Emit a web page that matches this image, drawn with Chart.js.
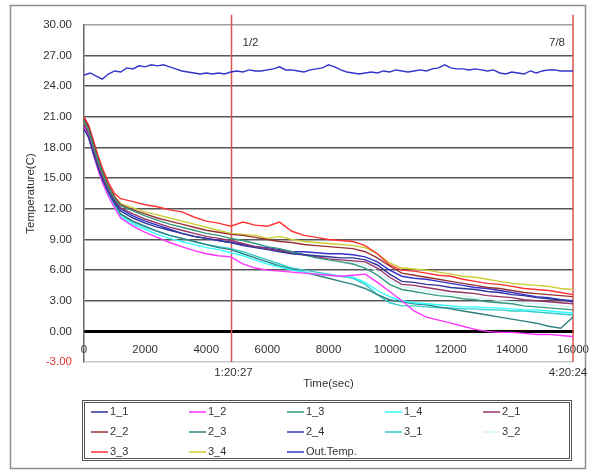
<!DOCTYPE html>
<html><head><meta charset="utf-8">
<script src="https://cdn.jsdelivr.net/npm/chart.js@4/dist/chart.umd.min.js"></script>
<style>html,body{margin:0;padding:0;background:#fff;}canvas{display:block;}</style>
</head><body>
<canvas id="c" width="591" height="471"></canvas>
<script>
// ---- data ----
const times = [0,150,300,450,600,800,1000,1200,1600,2000,2400,2800,3200,3600,4000,4400,4800,5200,5600,6000,6400,6800,7200,7600,8000,8400,8800,9200,9600,10000,10400,10800,11200,11600,12000,12400,12800,13200,13600,14000,14400,14800,15200,15600,16000];

const s1_1 = [19.8,19.0,17.5,16.1,14.9,13.6,12.6, 11.8,11.1,10.6,10.2,9.9,9.6,9.3,9.1,8.9,8.7, 8.4,8.2,8.0,7.8,7.6,7.5,7.4,7.3,7.2,7.2, 7.0,6.5,5.6,4.9,4.8,4.6,4.5,4.3,4.2,4.1, 3.9,3.8,3.6,3.5,3.3,3.2,3.1,2.9];
const s1_2 = [20.0,19.0,17.4,15.9,14.6,13.2,12.1, 11.1,10.3,9.7,9.2,8.7,8.3,7.9,7.6,7.4,7.3, 6.6,6.2,6.0,5.9,5.8,5.7,5.6,5.5,5.4,5.5, 5.6,4.8,3.9,3.0,2.0,1.4,1.1,0.8,0.5,0.2, 0.0,-0.1,-0.1,-0.2,-0.3,-0.3,-0.4,-0.5];
const s1_3 = [20.6,19.7,18.2,16.8,15.5,14.1,13.0, 12.3,11.8,11.3,10.9,10.5,10.2,9.9,9.6,9.4,9.1, 8.9,8.6,8.3,8.1,7.8,7.5,7.2,7.0,6.8,6.6, 6.2,5.5,4.6,4.1,3.9,3.7,3.5,3.4,3.2,3.1, 2.9,2.8,2.7,2.5,2.4,2.3,2.2,2.1];
const s1_4 = [19.9,19.0,17.4,16.0,14.7,13.3,12.2, 11.2,10.5,10.0,9.5,9.1,8.8,8.5,8.2,8.0,7.7, 7.4,7.0,6.6,6.3,6.0,5.8,5.6,5.5,5.4,5.3, 4.8,4.0,3.4,3.0,2.8,2.7,2.6,2.5,2.4,2.4, 2.3,2.3,2.2,2.1,2.1,2.0,1.9,1.8];
const s2_1 = [20.3,19.4,17.9,16.5,15.2,13.9,12.9, 12.1,11.5,11.0,10.6,10.2,9.9,9.6,9.3,9.1,8.9, 8.6,8.3,8.1,7.9,7.7,7.5,7.3,7.1,7.0,6.9, 6.8,6.2,5.3,4.6,4.5,4.3,4.1,3.9,3.8,3.7, 3.5,3.4,3.3,3.1,3.0,2.9,2.8,2.7];
const s2_2 = [20.8,20.0,18.5,17.0,15.7,14.3,13.2, 12.4,11.9,11.5,11.1,10.8,10.5,10.2,9.9,9.7,9.5, 9.4,9.2,9.0,8.8,8.7,8.5,8.4,8.3,8.2,8.1, 7.8,7.2,6.4,5.7,5.5,5.3,5.1,4.9,4.7,4.5, 4.3,4.2,4.0,3.8,3.7,3.6,3.5,3.4];
const s2_3 = [20.0,19.1,17.6,16.2,14.9,13.5,12.4, 11.5,10.8,10.3,9.8,9.4,9.1,8.8,8.5,8.2,8.0, 7.6,7.2,6.8,6.4,6.1,5.8,5.5,5.2,4.9,4.6, 4.2,3.6,3.1,2.9,2.7,2.6,2.4,2.2,2.0,1.8, 1.6,1.4,1.2,1.0,0.8,0.5,0.3,1.4];
const s2_4 = [20.2,19.3,17.8,16.4,15.1,13.8,12.8, 12.0,11.3,10.8,10.4,10.0,9.6,9.3,9.1,8.9,8.7, 8.5,8.3,8.2,8.0,7.8,7.8,7.7,7.6,7.6,7.5, 7.3,6.8,6.0,5.4,5.2,5.1,4.9,4.7,4.5,4.3, 4.2,4.0,3.8,3.6,3.4,3.3,3.1,3.0];
const s3_1 = [20.1,19.2,17.6,16.2,14.9,13.5,12.5, 11.4,10.7,10.2,9.8,9.4,9.1,8.8,8.5,8.3,8.1, 7.8,7.4,7.0,6.6,6.2,6.0,5.8,5.6,5.4,5.2, 4.6,3.6,2.8,2.5,2.5,2.4,2.3,2.3,2.2,2.2, 2.1,2.1,2.0,2.0,1.9,1.8,1.7,1.6];
const s3_2 = [20.3,19.4,17.9,16.5,15.2,13.8,12.8, 11.9,11.3,10.8,10.4,10.0,9.7,9.4,9.1,8.9,8.7, 8.5,8.3,8.1,7.9,7.7,7.5,7.3,7.1,6.9,6.8, 6.5,5.9,5.0,4.4,4.2,4.0,3.8,3.6,3.5,3.3, 3.2,3.0,2.9,2.8,2.7,2.6,2.5,2.4];
const s3_3 = [21.0,20.2,18.8,17.3,16.0,14.6,13.5, 13.0,12.7,12.4,12.2,11.9,11.7,11.2,10.8,10.6,10.3, 10.7,10.4,10.3,10.7,9.8,9.4,9.2,9.0,8.9,8.8, 8.4,7.6,6.5,6.0,5.9,5.7,5.5,5.4,5.1,4.9, 4.7,4.6,4.4,4.2,4.1,4.0,3.8,3.6];
const s3_4 = [20.6,19.8,18.3,16.9,15.6,14.2,13.2, 12.5,12.1,11.7,11.4,11.1,10.8,10.5,10.2,9.9,9.6, 9.5,9.4,9.1,9.3,9.0,8.8,8.7,8.6,8.5,8.4, 8.2,7.6,6.7,6.2,6.1,6.0,5.8,5.6,5.4,5.3, 5.1,4.9,4.7,4.6,4.5,4.4,4.2,4.1];

const outTimes = [0,200,400,600,800,1000,1200,1400,1600,1800,2000,2200,2400,2600,2800,3000,3200,3400,3600,3800,4000,4200,4400,4600,4800,5000,5200,5400,5600,5800,6000,6200,6400,6600,6800,7000,7200,7400,7600,7800,8000,8200,8400,8600,8800,9000,9200,9400,9600,9800,10000,10200,10400,10600,10800,11000,11200,11400,11600,11800,12000,12200,12400,12600,12800,13000,13200,13400,13600,13800,14000,14200,14400,14600,14800,15000,15200,15400,15600,15800,16000];
const outTemp = [25.1,25.3,25.0,24.7,25.2,25.5,25.4,25.8,25.7,26.0,
 25.9,26.1,26.0,26.1,25.9,25.7,25.5,25.4,25.3,25.2,
 25.3,25.2,25.3,25.2,25.4,25.5,25.4,25.6,25.5,25.5,
 25.6,25.7,25.9,25.6,25.6,25.5,25.4,25.6,25.7,25.8,
 26.1,25.9,25.6,25.4,25.3,25.2,25.3,25.4,25.3,25.5,
 25.4,25.6,25.5,25.4,25.5,25.6,25.5,25.7,25.8,26.1,
 25.8,25.7,25.7,25.6,25.7,25.6,25.5,25.6,25.3,25.2,
 25.4,25.3,25.2,25.5,25.3,25.5,25.6,25.6,25.5,25.5,
 25.5];

const seriesNames = ['1_1','1_2','1_3','1_4','2_1','2_2','2_3','2_4','3_1','3_2','3_3','3_4'];
const seriesValues = [s1_1,s1_2,s1_3,s1_4,s2_1,s2_2,s2_3,s2_4,s3_1,s3_2,s3_3,s3_4];
const seriesColors = ['#333399','#ff33ff','#339980','#33ffff','#993366','#993333','#2f8080','#3333cc','#33cccc','#d4f4f4','#ff3333','#cccc33'];
const outName = 'Out.Temp.';
const outColor = '#3333cc';

const markerTimes = [4827, 16000];
const markerTopLabels = ['1/2', '7/8'];
const markerBottomLabels = ['1:20:27', '4:20:24'];
const yMin = -3, yMax = 30, yStep = 3;
const xMin = 0, xMax = 16000, xStep = 2000;

// ---- build ----
const FONT = 'Arial, "Liberation Sans", sans-serif';
const datasets = [];
seriesNames.forEach((n, k) => {
  datasets.push({label: n, data: times.map((t, i) => ({x: t, y: seriesValues[k][i]})),
    borderColor: seriesColors[k], borderWidth: 1.4, pointRadius: 0, tension: 0, fill: false});
});
datasets.push({label: outName, data: outTimes.map((t, i) => ({x: t, y: outTemp[i]})),
  borderColor: outColor, borderWidth: 1.4, pointRadius: 0, tension: 0, fill: false});
markerTimes.forEach((t) => {
  datasets.push({label: '', isMarker: true, data: [{x: t, y: yMin}, {x: t, y: yMax + 1}],
    borderColor: '#d9534f', borderWidth: 1.5, pointRadius: 0, clip: false, fill: false});
});

const decorPlugin = {
  id: 'decor',
  afterDraw(chart) {
    const ctx = chart.ctx, xs = chart.scales.x, ca = chart.chartArea;
    ctx.save();
    // outer frame
    ctx.strokeStyle = '#8f8f8f'; ctx.lineWidth = 1.5;
    ctx.strokeRect(10.5, 5.5, 575, 463);
    ctx.fillStyle = '#333';
    ctx.font = '11.5px ' + FONT;
    ctx.textAlign = 'center'; ctx.textBaseline = 'middle';
    markerTimes.forEach((t, i) => {
      const px = xs.getPixelForValue(t);
      ctx.fillText(markerTopLabels[i], i === 0 ? px + 19 : px - 16, 43);
      ctx.fillText(markerBottomLabels[i], i === 0 ? px + 2 : px - 5, 373);
    });
    ctx.fillText('Time(sec)', (ca.left + ca.right) / 2, 384);
    // legend box
    ctx.strokeStyle = '#555'; ctx.lineWidth = 1;
    ctx.strokeRect(82.5, 400.5, 489, 60);
    ctx.strokeRect(84.5, 402.5, 485, 56);
    const items = chart.data.datasets.filter(d => d.label && !d.isMarker);
    ctx.textAlign = 'left';
    ctx.font = '11px ' + FONT;
    items.forEach((d, i) => {
      const col = i % 5, row = Math.floor(i / 5);
      const x = 91 + col * 98, y = 412 + row * 20;
      ctx.strokeStyle = d.borderColor; ctx.lineWidth = 1.5;
      ctx.beginPath(); ctx.moveTo(x, y); ctx.lineTo(x + 17, y); ctx.stroke();
      ctx.fillStyle = '#333';
      ctx.fillText(d.label, x + 19, y);
    });
    ctx.restore();
  }
};

new Chart(document.getElementById('c'), {
  type: 'line',
  data: {datasets},
  plugins: [decorPlugin],
  options: {
    responsive: false, animation: false, devicePixelRatio: 1,
    layout: {padding: {left: 10, right: 18, top: 25, bottom: 109}},
    plugins: {legend: {display: false}, tooltip: {enabled: false}},
    scales: {
      x: {type: 'linear', min: xMin, max: xMax, position: {y: 0},
        afterFit(scale) { scale.paddingLeft = 0; scale.paddingRight = 0; },
        grid: {display: false, drawTicks: false},
        border: {display: true, color: '#000', width: 3},
        ticks: {stepSize: xStep, padding: 12, color: '#333', font: {family: FONT, size: 11.5},
          callback: v => String(v), maxRotation: 0}},
      y: {type: 'linear', min: yMin, max: yMax,
        afterFit(scale) { scale.width = 74; },
        grid: {drawTicks: false, lineWidth: 1.6,
          color: c => c.tick.value === yMax ? '#a0a0a0' : (c.tick.value === yMin ? '#c8c8c8' : '#555')},
        border: {display: true, color: '#666', width: 1.5},
        title: {display: true, text: 'Temperature(C)', color: '#333', font: {family: FONT, size: 11.5}, padding: {top: 14, bottom: 0}},
        ticks: {stepSize: yStep, padding: 12, font: {family: FONT, size: 11.5},
          color: c => c.tick.value < 0 ? '#e03030' : '#333',
          callback: v => Number(v).toFixed(2)}}
    }
  }
});
</script>
</body></html>
